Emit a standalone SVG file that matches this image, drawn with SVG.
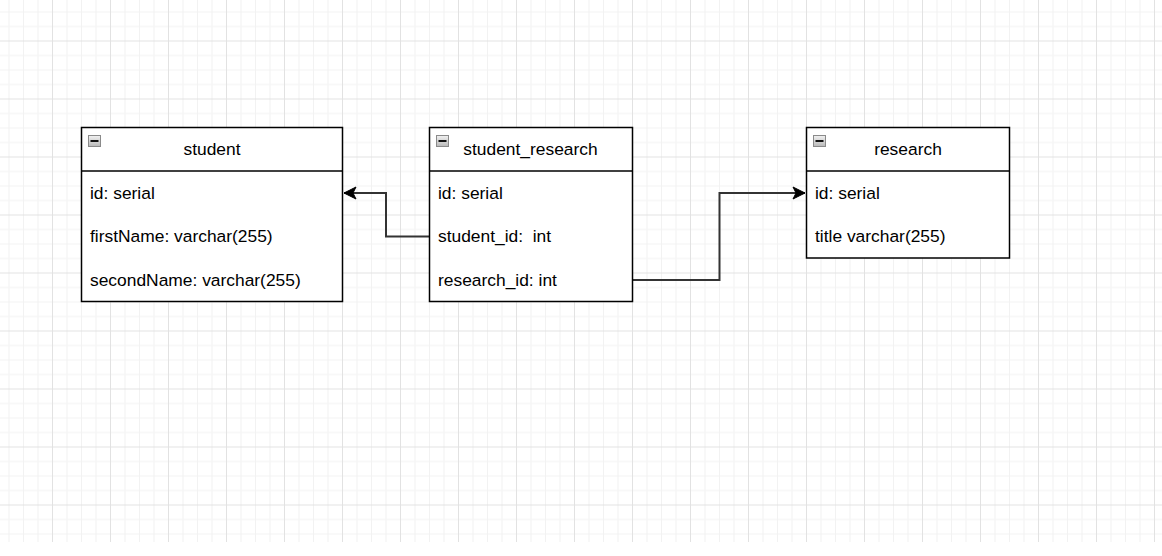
<svg xmlns="http://www.w3.org/2000/svg" width="1162" height="556" viewBox="0 0 1162 556">
  <style>
    .box { fill: #ffffff; stroke: #000000; stroke-width: 1.5; }
    .sep { stroke: #000000; stroke-width: 1.5; }
    .hdr { font-family: "Liberation Sans", Arial, sans-serif; font-size: 17.4px; fill: #000000; text-anchor: middle; }
    .row { font-family: "Liberation Sans", Arial, sans-serif; font-size: 17.4px; fill: #000000; white-space: pre; }
    .edge { fill: none; stroke: #333333; stroke-width: 2; }
    .ico { fill: url(#icoGrad); stroke: #8a8a8a; stroke-width: 1; }
    .icobar { fill: #111111; }
  </style>
  <defs>
    <pattern id="grid" patternUnits="userSpaceOnUse" x="-6" y="-17.5" width="58" height="58">
      <rect x="14.5" y="0" width="1" height="58" fill="#f2f2f2"/>
      <rect x="29" y="0" width="1" height="58" fill="#f2f2f2"/>
      <rect x="43.5" y="0" width="1" height="58" fill="#f2f2f2"/>
      <rect x="0" y="14.5" width="58" height="1" fill="#f2f2f2"/>
      <rect x="0" y="29" width="58" height="1" fill="#f2f2f2"/>
      <rect x="0" y="43.5" width="58" height="1" fill="#f2f2f2"/>
      <rect x="0" y="0" width="1" height="58" fill="#e2e2e2"/>
      <rect x="0" y="0" width="58" height="1" fill="#e2e2e2"/>
    </pattern>
    <linearGradient id="icoGrad" x1="0" y1="0" x2="0" y2="1">
      <stop offset="0" stop-color="#f2f2f2"/>
      <stop offset="1" stop-color="#b8b8b8"/>
    </linearGradient>
    <marker id="arrow" markerUnits="userSpaceOnUse" markerWidth="14" markerHeight="14" viewBox="0 0 14 14" refX="13" refY="7" orient="auto">
      <path d="M1,1 L13,7 L1,13 L4,7 Z" fill="#000000" stroke="#000000" stroke-width="1"/>
    </marker>
  </defs>

  <rect x="0" y="0" width="1162" height="556" fill="#ffffff"/>
  <rect x="0" y="0" width="1162" height="542" fill="url(#grid)"/>

  <g id="connectors">
    <path class="edge" d="M429.5,236.5 L386,236.5 L386,193 L344,193" marker-end="url(#arrow)"/>
    <path class="edge" d="M632.5,280 L719.5,280 L719.5,193 L805,193" marker-end="url(#arrow)"/>
  </g>

  <g id="student">
    <rect class="box" x="81.5" y="127.5" width="261" height="174"/>
    <line class="sep" x1="81.5" y1="171" x2="342.5" y2="171"/>
    <rect class="ico" x="88.5" y="135.5" width="12" height="11"/>
    <rect class="icobar" x="90.5" y="140" width="8" height="2"/>
    <text class="hdr" x="212" y="155">student</text>
    <text class="row" x="90" y="198.5">id: serial</text>
    <text class="row" x="90" y="242">firstName: varchar(255)</text>
    <text class="row" x="90" y="285.5">secondName: varchar(255)</text>
  </g>

  <g id="student_research">
    <rect class="box" x="429.5" y="127.5" width="203" height="174"/>
    <line class="sep" x1="429.5" y1="171" x2="632.5" y2="171"/>
    <rect class="ico" x="436.5" y="135.5" width="12" height="11"/>
    <rect class="icobar" x="438.5" y="140" width="8" height="2"/>
    <text class="hdr" x="530.5" y="155">student_research</text>
    <text class="row" x="438" y="198.5">id: serial</text>
    <text class="row" x="438" y="242" xml:space="preserve">student_id:  int</text>
    <text class="row" x="438" y="285.5">research_id: int</text>
  </g>

  <g id="research">
    <rect class="box" x="806.5" y="127.5" width="203" height="130.5"/>
    <line class="sep" x1="806.5" y1="171" x2="1009.5" y2="171"/>
    <rect class="ico" x="813.5" y="135.5" width="12" height="11"/>
    <rect class="icobar" x="815.5" y="140" width="8" height="2"/>
    <text class="hdr" x="908" y="155">research</text>
    <text class="row" x="815" y="198.5">id: serial</text>
    <text class="row" x="815" y="242">title varchar(255)</text>
  </g>
</svg>
